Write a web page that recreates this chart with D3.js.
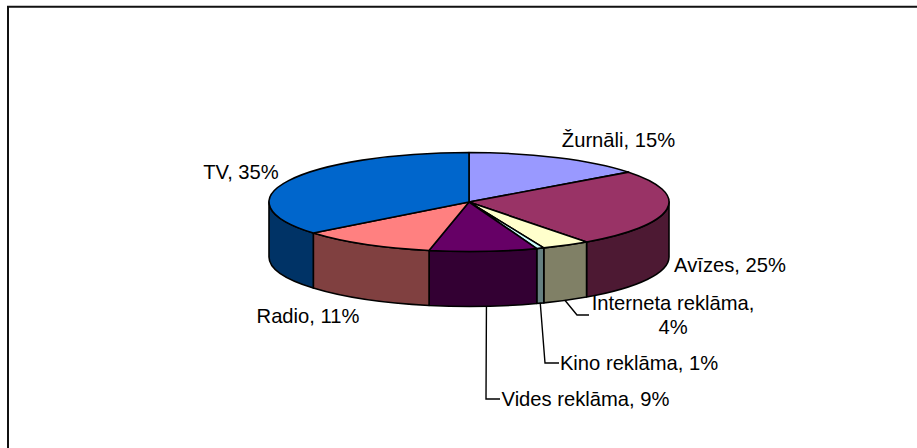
<!DOCTYPE html>
<html><head><meta charset="utf-8">
<script src="https://cdn.jsdelivr.net/npm/d3@7/dist/d3.min.js"></script>
<style>html,body{margin:0;padding:0;background:#fff}svg{display:block}text{font-family:"Liberation Sans",Arial,sans-serif;font-size:20.2px;fill:#000}</style>
</head><body><svg id="c" width="917" height="448"></svg>
<script>
const categories=["Žurnāli","Avīzes","Interneta reklāma","Kino reklāma","Vides reklāma","Radio","TV"];
const values=[14.7,25.3,3.9,0.6,8.7,11,35.8];
const percentLabels=["15%","25%","4%","1%","9%","11%","35%"];
const topColors=["#9999FF","#993366","#FFFFCC","#CCFFFF","#660066","#FF8080","#0066CC"];
const sideColors=["#4D4D80","#4D1933","#808066","#668080","#330033","#804040","#003366"];

const W=917,H=448,cx=469,cy=202,rx=200,ry=49.5,depth=55;
const svg=d3.select("#c");
svg.append("path").attr("d",`M8 ${H}V6.7H${W}`).attr("fill","none").attr("stroke","#111").attr("stroke-width",2);

const arcs=d3.pie().sort(null).value(d=>d)(values);
const px=a=>cx+rx*Math.sin(a), py=a=>cy-ry*Math.cos(a);
const lo=Math.PI/2,hi=3*Math.PI/2;
svg.append("g").selectAll("path").data(arcs.filter(d=>d.endAngle>lo&&d.startAngle<hi)).join("path")
 .attr("d",d=>{const a=Math.max(d.startAngle,lo),b=Math.min(d.endAngle,hi);
   return `M${px(a)} ${py(a)}A${rx} ${ry} 0 0 1 ${px(b)} ${py(b)}V${py(b)+depth}A${rx} ${ry} 0 0 0 ${px(a)} ${py(a)+depth}Z`;})
 .attr("fill",d=>sideColors[d.index]).attr("stroke","#000").attr("stroke-width",1.6).attr("stroke-linejoin","round");
const arc=d3.arc().innerRadius(0).outerRadius(1);
svg.append("g").attr("transform",`translate(${cx},${cy}) scale(${rx},${ry})`)
 .selectAll("path").data(arcs).join("path").attr("d",arc)
 .attr("fill",d=>topColors[d.index]).attr("stroke","#000").attr("stroke-width",1.6)
 .attr("stroke-linejoin","round").attr("vector-effect","non-scaling-stroke");

const mid=d=>(d.startAngle+d.endAngle)/2;
const leaders=[{i:2,dx:-1,pts:[[577,315],[589,315]]},{i:3,dx:0,pts:[[545,363],[559,363]]},{i:4,dx:3,pts:[[486,399],[500,399]]}];
leaders.forEach(l=>{const a=mid(arcs[l.i]);
  const start=[px(a)+l.dx,py(a)+depth];
  svg.append("path").attr("d",d3.line()([start,...l.pts])).attr("fill","none").attr("stroke","#000").attr("stroke-width",1.4);
});

const lab=i=>`${categories[i]}, ${percentLabels[i]}`;
const placed=[[0,618.5,147],[1,730,272],[5,308,323],[6,241,179],[3,639,369.5],[4,585.5,405.5]];
svg.append("g").selectAll("text").data(placed).join("text")
 .attr("x",d=>d[1]).attr("y",d=>d[2]).attr("text-anchor","middle").text(d=>lab(d[0]));
svg.append("text").attr("x",673).attr("y",310).attr("text-anchor","middle").text(categories[2]+",");
svg.append("text").attr("x",673).attr("y",334).attr("text-anchor","middle").text(percentLabels[2]);
</script></body></html>
